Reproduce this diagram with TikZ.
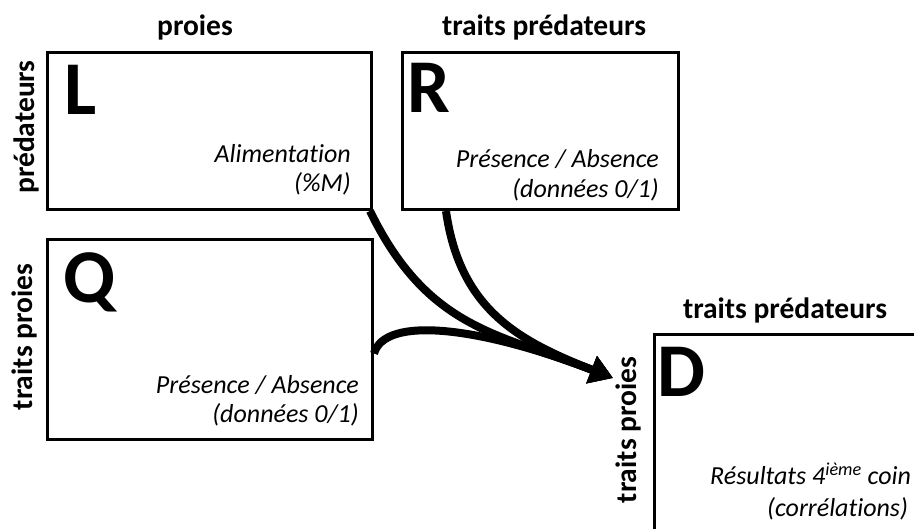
\documentclass[tikz,border=0pt]{standalone}
\usepackage{fontspec}
\setmainfont[Ligatures={NoCommon}]{Carlito}
\usetikzlibrary{arrows.meta,calc}
\begin{document}
\begin{tikzpicture}[x=1pt,y=-1pt,
  box/.style={draw, line width=3pt, inner sep=0pt, anchor=north west},
  hdr/.style={font=\fontsize{29.5}{34}\selectfont\bfseries, inner sep=0pt},
  big/.style={font=\fontsize{76}{80}\selectfont\bfseries, inner sep=0pt, anchor=base west},
  note/.style={font=\fontsize{26}{30}\selectfont\itshape, inner sep=0pt, anchor=base east},
  flow/.style={line width=8pt, -{Triangle[length=23pt,width=28pt]}}]
\useasboundingbox (0,0) rectangle (914,529);
% boxes
\node[box, minimum width=324pt, minimum height=157pt] (L) at (46,51) {};
\node[box, minimum width=276pt, minimum height=157pt] (R) at (401,51) {};
\node[box, minimum width=325pt, minimum height=200pt] (Q) at (46,238) {};
\node[box, minimum width=300pt, minimum height=250pt] (D) at (653,333) {};
% headers
\node[hdr, anchor=base] (hL) at (195,36) {proies};
\node[hdr, anchor=base] (hR) at (544,36) {traits prédateurs};
\node[hdr, rotate=90] (sL) at (26,127) {prédateurs};
\node[hdr, rotate=90] (sQ) at (24,337) {traits proies};
\node[hdr, anchor=base] (hD) at (785,319) {traits prédateurs};
\node[hdr, rotate=90] (sD) at (628,430) {traits proies};
% letters
\node[big] (lL) at (64,115) {L};
\node[big] (lR) at (407,113) {R};
\node[big] (lQ) at (63,303) {Q};
\node[big] (lD) at (657,397) {D};
% notes
\node[note] (nL1) at (351,163) {Alimentation};
\node[note] (nL2) at (351,192) {(\%M)};
\node[note] (nR1) at (659,168) {Présence / Absence};
\node[note] (nR2) at (659,198) {(données 0/1)};
\node[note] (nQ1) at (359,394) {Présence / Absence};
\node[note] (nQ2) at (359,423) {(données 0/1)};
\node[note, anchor=base west] (nD1) at (710,485) {Résultats 4\textsuperscript{ième} coin};
\node[note, anchor=base west] (nD2) at (767,516) {(corrélations)};
% connectors
\coordinate (tip) at (613,378);
\draw[flow] ($(L.south east)+(-3,0)$) .. controls (428,330) and (500,334) .. (tip);
\draw[flow] ($(R.south west)+(45,0)$) .. controls (460,310) and (519,341) .. (tip);
\draw[flow] ($(Q.east)+(0,14)$) .. controls (385,315) and (481,327) .. (tip);
\end{tikzpicture}
\end{document}
